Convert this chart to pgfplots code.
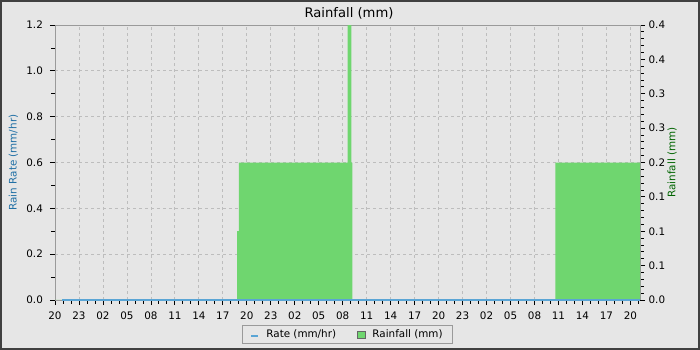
\documentclass[border=0pt]{standalone}
\usepackage{fontspec}
\setmainfont{DejaVu Sans}
\usepackage{pgfplots}
\pgfplotsset{compat=1.18}
\definecolor{bg}{HTML}{E6E6E6}
\definecolor{framec}{HTML}{404040}
\definecolor{spine}{HTML}{9A9A9A}
\definecolor{gridc}{HTML}{BDBDBD}
\definecolor{ratec}{HTML}{5AA5D5}
\definecolor{rainc}{HTML}{6FD66F}
\definecolor{ratelab}{HTML}{1F6FA5}
\definecolor{rainlab}{HTML}{006400}
\begin{document}
\fontsize{10.4}{12}\selectfont
\begin{tikzpicture}
\useasboundingbox (0,0) rectangle (700bp,350bp);
\fill[bg] (0,0) rectangle (700bp,350bp);
\draw[framec, line width=2bp] (1bp,1bp) rectangle (699bp,349bp);
\node[font=\fontsize{13.2}{15}\selectfont] at (349bp,337bp) {Rainfall (mm)};
\pgfplotsset{base/.style={scale only axis, width=585bp, height=275bp,
  at={(55bp,50bp)}, anchor=south west, xmin=0, xmax=73.2,
  tick align=outside, major tick length=5bp, minor tick length=3.5bp,
  tick style={black, line width=0.8bp},
  axis line style={spine, line width=0.8bp},
  ticklabel style={font=\fontsize{10.4}{12}\selectfont},
  label style={font=\fontsize{10.4}{12}\selectfont}}}
% left axis: grid, ticks
\begin{axis}[base, ymin=0, ymax=1.2,
  xtick pos=bottom, ytick pos=left,
  xtick={0,3,6,9,12,15,18,21,24,27,30,33,36,39,42,45,48,51,54,57,60,63,66,69,72},
  xticklabels={20,23,02,05,08,11,14,17,20,23,02,05,08,11,14,17,20,23,02,05,08,11,14,17,20},
  minor xtick={0,1,...,73},
  ytick={0,0.2,0.4,0.6,0.8,1.0,1.2},
  yticklabels={0.0,0.2,0.4,0.6,0.8,1.0,1.2},
  minor ytick={0.1,0.3,0.5,0.7,0.9,1.1},
  xticklabel style={yshift=-3bp},
  yticklabel style={xshift=-3.5bp},
  grid=major, major grid style={gridc, dash pattern=on 3bp off 3bp, line width=0.8bp},
  every axis y label/.style={at={(axis description cs:-0.0712,0.5)}, rotate=90, anchor=center, color=ratelab},
  ylabel={Rain Rate (mm/hr)}]
\addplot[draw=none] coordinates {(0,0) (73.2,0)};
\end{axis}
% right axis: rainfall
\begin{axis}[base, ymin=0, ymax=0.4,
  axis x line=none, axis y line*=right,
  ytick={0,0.05,0.1,0.15,0.2,0.25,0.3,0.35,0.4},
  yticklabels={0.0,0.1,0.1,0.1,0.2,0.3,0.3,0.4,0.4},
  minor tick num=4,
  every axis y label/.style={at={(axis description cs:1.0547,0.5)}, rotate=90, anchor=center, color=rainlab},
  ylabel={Rainfall (mm)}]
\addplot[const plot, fill=rainc, draw=none] coordinates {
  (0,0) (22.8,0.1) (23.0,0.2) (36.6,0.4) (37.1,0.2) (37.2,0) (62.6,0.2) (73.2,0.2)} \closedcycle;
\end{axis}
% rate line + legend
\begin{axis}[base, ymin=0, ymax=1.2, hide axis, clip=false,
  legend columns=2,
  legend style={at={(axis description cs:0.5,-0.0909)}, anchor=north,
    draw=spine, fill=bg, font=\fontsize{10.4}{12}\selectfont,
    inner xsep=8bp, inner ysep=2.5bp,
    /tikz/every odd column/.append style={column sep=5bp},
    /tikz/every even column/.append style={column sep=19bp}},
  ]
\addplot[color=ratec, line width=1.6bp, forget plot] coordinates {(0.9,0) (73.2,0)};
\addlegendimage{legend image code/.code={\draw[color=ratec, line width=2bp] (0bp,-2bp) -- (7bp,-2bp);}}
\addlegendentry{Rate (mm/hr)}
\addlegendimage{legend image code/.code={\draw[fill=rainc,draw=black!60] (0bp,-3.5bp) rectangle (8bp,3.5bp);}}
\addlegendentry{Rainfall (mm)}
\end{axis}
\end{tikzpicture}
\end{document}
